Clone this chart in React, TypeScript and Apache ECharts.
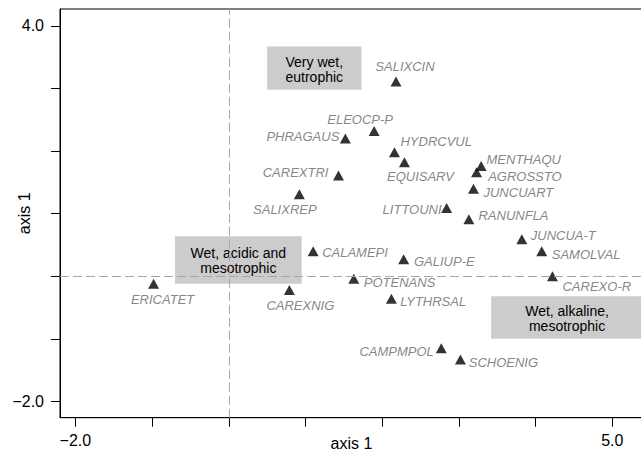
import React, { useEffect, useRef } from "react";
import * as echarts from "echarts";

// Species scores (axis 1 horizontal, axis 2 vertical)
const speciesNames = [
  "SALIXCIN", "ELEOCP-P", "PHRAGAUS", "HYDRCVUL", "EQUISARV", "CAREXTRI",
  "SALIXREP", "MENTHAQU", "AGROSSTO", "JUNCUART", "LITTOUNI", "RANUNFLA",
  "JUNCUA-T", "SAMOLVAL", "CAREXO-R", "GALIUP-E", "POTENANS", "LYTHRSAL",
  "CAMPMPOL", "SCHOENIG", "ERICATET", "CAREXNIG", "CALAMEPI",
];
const scoreX = [
  2.18, 1.895, 1.52, 2.16, 2.29, 1.43,
  0.92, 3.29, 3.23, 3.19, 2.84, 3.13,
  3.82, 4.08, 4.22, 2.28, 1.63, 2.12,
  2.77, 3.02, -0.98, 0.79, 1.10,
];
const scoreY = [
  3.11, 2.32, 2.20, 1.98, 1.82, 1.61,
  1.31, 1.76, 1.66, 1.40, 1.09, 0.91,
  0.59, 0.40, 0.0, 0.27, -0.04, -0.36,
  -1.15, -1.33, -0.12, -0.22, 0.40,
];

// Axis ticks
const xTickValues = [-2, -1, 0, 1, 2, 3, 4, 5];
const xTickLabelValues = [-2, 5];
const yTickValues = [-2, -1, 0, 1, 2, 3, 4];
const yTickLabelValues = [-2, 4];

// Annotation boxes (data coordinates)
const boxTexts = ["Very wet,\neutrophic", "Wet, acidic and\nmesotrophic", "Wet, alkaline,\nmesotrophic"];
const boxXStart = [0.5, -0.70, 3.42];
const boxXEnd = [1.73, 0.95, 5.4];
const boxYLow = [2.98, -0.12, -1.0];
const boxYHigh = [3.67, 0.64, -0.32];

// Label placement relative to each marker: [align, dx, dy]
const labelPlacement: Record<string, [string, number, number]> = {
  "SALIXCIN": ["center", 9, -15],
  "ELEOCP-P": ["center", -14, -12],
  "PHRAGAUS": ["right", -6, -2.5],
  "HYDRCVUL": ["left", 6, -11],
  "EQUISARV": ["center", 16, 14],
  "CAREXTRI": ["right", -10, -2.7],
  "SALIXREP": ["center", -14.5, 15.5],
  "MENTHAQU": ["left", 5.4, -6.7],
  "AGROSSTO": ["left", 11.6, 4],
  "JUNCUART": ["left", 10, 4],
  "LITTOUNI": ["right", -5, 1],
  "RANUNFLA": ["left", 9.6, -4],
  "JUNCUA-T": ["left", 9, -4],
  "SAMOLVAL": ["left", 10, 3.5],
  "CAREXO-R": ["left", 10, 10],
  "GALIUP-E": ["left", 10.3, 2],
  "POTENANS": ["left", 10, 3.4],
  "LYTHRSAL": ["left", 8.8, 3],
  "CAMPMPOL": ["right", -7.4, 3.3],
  "SCHOENIG": ["left", 8.3, 2.7],
  "ERICATET": ["center", 9, 15.7],
  "CAREXNIG": ["center", 11, 15.7],
  "CALAMEPI": ["left", 9, 1.6],
};

const FONT = "'Liberation Sans', Arial, Helvetica, sans-serif";

const fmt = (v: number) => (v < 0 ? "\u2212" : "") + Math.abs(v).toFixed(1);

export default function App() {
  const ref = useRef<HTMLDivElement>(null);

  useEffect(() => {
    if (!ref.current) return;
    const chart = echarts.init(ref.current, null, { renderer: "svg" });

    const scatterData = speciesNames.map((name, i) => {
      const p = labelPlacement[name] || ["left", 9, 0];
      return {
        name,
        value: [scoreX[i], scoreY[i]],
        label: { align: p[0], offset: [p[1], p[2]] },
      };
    });

    const boxData = boxTexts.map((_, i) => [boxXStart[i], boxXEnd[i], boxYLow[i], boxYHigh[i]]);

    chart.setOption({
      animation: false,
      grid: {
        left: 60,
        top: 9,
        right: -2,
        bottom: 38.3,
        containLabel: false,
        outerBoundsMode: "none",
        show: true,
        borderColor: "#000",
        borderWidth: 1,
        backgroundColor: "transparent",
      },
      xAxis: {
        type: "value",
        min: -2.2,
        max: 5.4,
        splitLine: { show: false },
        axisLine: { show: true, onZero: false, lineStyle: { color: "#000", width: 1 } },
        axisTick: {
          show: true,
          customValues: xTickValues,
          length: 9,
          lineStyle: { color: "#000", width: 1 },
        },
        axisLabel: {
          customValues: xTickLabelValues,
          formatter: (v: number) => fmt(v),
          color: "#000",
          fontSize: 16,
          fontFamily: FONT,
          margin: 15,
        },
        name: "axis 1",
        nameLocation: "middle",
        nameGap: 18,
        nameMoveOverlap: false,
        nameTextStyle: { color: "#000", fontSize: 16, fontFamily: FONT },
      },
      yAxis: {
        type: "value",
        min: -2.26,
        max: 4.27,
        splitLine: { show: false },
        axisLine: { show: true, onZero: false, lineStyle: { color: "#000", width: 1 } },
        axisTick: {
          show: true,
          customValues: yTickValues,
          length: 9,
          lineStyle: { color: "#000", width: 1 },
        },
        axisLabel: {
          customValues: yTickLabelValues,
          formatter: (v: number) => fmt(v),
          color: "#000",
          fontSize: 16,
          fontFamily: FONT,
          margin: 16,
        },
        name: "axis 1",
        nameLocation: "middle",
        nameGap: 28,
        nameMoveOverlap: false,
        nameTextStyle: { color: "#000", fontSize: 16, fontFamily: FONT },
      },
      series: [
        {
          type: "scatter",
          data: [],
          z: 1,
          silent: true,
          markLine: {
            silent: true,
            symbol: "none",
            label: { show: false },
            lineStyle: { color: "#a8a8a8", type: [9, 4], width: 1 },
            emphasis: { disabled: true },
            data: [{ xAxis: 0 }, { yAxis: 0 }],
          },
        },
        {
          type: "custom",
          z: 2,
          silent: true,
          clip: false,
          data: boxData,
          renderItem: (params: any, api: any) => {
            const tl = api.coord([api.value(0), api.value(3)]);
            const br = api.coord([api.value(1), api.value(2)]);
            return {
              type: "group",
              children: [
                {
                  type: "rect",
                  shape: { x: tl[0], y: tl[1], width: br[0] - tl[0], height: br[1] - tl[1] },
                  style: { fill: "#cccccc" },
                },
                {
                  type: "text",
                  x: (tl[0] + br[0]) / 2,
                  y: (tl[1] + br[1]) / 2 + 1,
                  style: {
                    text: boxTexts[params.dataIndex],
                    fill: "#000",
                    fontSize: 14,
                    fontFamily: FONT,
                    align: "center",
                    verticalAlign: "middle",
                    lineHeight: 15,
                  },
                },
              ],
            };
          },
        },
        {
          type: "scatter",
          z: 3,
          symbol: "triangle",
          symbolSize: [11, 10],
          itemStyle: { color: "#000" },
          data: scatterData,
          label: {
            show: true,
            position: "inside",
            formatter: "{b}",
            color: "#666666",
            fontStyle: "italic",
            fontSize: 13,
            fontFamily: FONT,
            verticalAlign: "middle",
          },
          emphasis: { disabled: true },
        },
      ],
    });

    return () => chart.dispose();
  }, []);

  return (
    <div
      ref={ref}
      style={{ position: "fixed", left: 0, top: 0, width: 641, height: 456, background: "#fff" }}
    />
  );
}
